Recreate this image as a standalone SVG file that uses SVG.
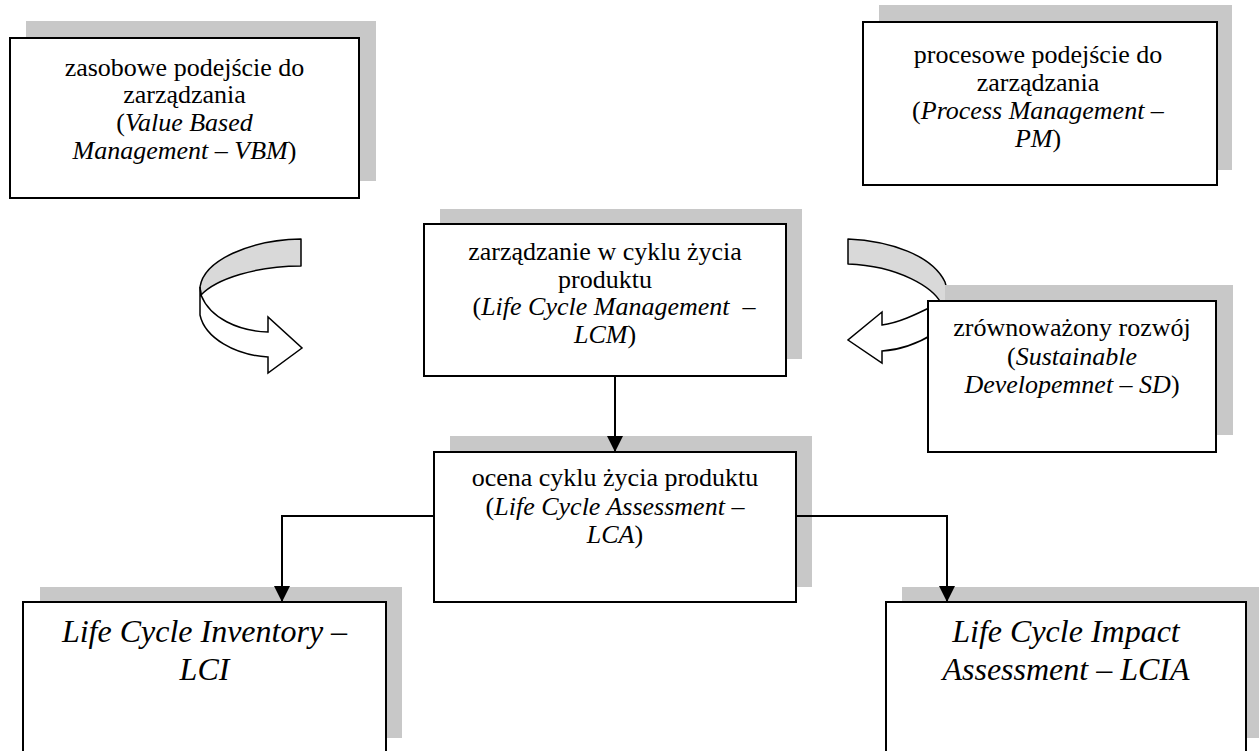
<svg xmlns="http://www.w3.org/2000/svg" width="1259" height="751" viewBox="0 0 1259 751">
<style>
.shadow{fill:#c8c8c8;stroke:none}
.box{fill:#fff;stroke:#000;stroke-width:2}
.t{font-family:'Liberation Serif','Times New Roman',Times,serif;font-size:26px;fill:#000;text-anchor:middle}
.big{font-size:32px;font-style:italic}
.i{font-style:italic}
.conn{fill:none;stroke:#000;stroke-width:2}
.band{fill:#d9d9d9;stroke:#000;stroke-width:1.5;stroke-linejoin:round}
.twist{fill:#fff;stroke:#000;stroke-width:1.5;stroke-linejoin:miter}
</style>
<defs>
<marker id="ah" markerUnits="userSpaceOnUse" markerWidth="16" markerHeight="16" refX="15" refY="7.5" orient="auto" viewBox="0 0 15 15">
<path d="M0,0 L15,7.5 L0,15 Z" fill="#000"/>
</marker>
</defs>
<rect width="1259" height="751" fill="#fff"/>

<g id="arrow-left">
<path class="band" d="M301,239 C250,240 204,260 200,287 L201,295 C216,279 256,266 301,266 Z"/>
<path class="twist" d="M200,287 L200,315 C205,338 235,355 268,357 L268,373 L302,348 L268,317 L268,332 C238,331 210,318 201,295 Z"/>
</g>

<g id="arrow-right">
<path class="band" d="M848,239 C890,241 932,255 945,282 C948,290 948,296 947,303 L941,303 C933,288 900,266 848,264 Z"/>
<path class="twist" d="M935,305 C915,315 898,323 882,325 L882,312 L848,340 L882,363 L882,351 C900,350 917,344 935,333 Z"/>
</g>

<g font-family="Liberation Serif, Times New Roman, serif">
<g id="vbm">
<rect class="shadow" x="26" y="21" width="350" height="160"/>
<rect class="box" x="10" y="38" width="349" height="160"/>
<text class="t" x="184.5" y="76">zasobowe podejście do</text>
<text class="t" x="184.5" y="103">zarządzania</text>
<text class="t" x="184.5" y="131">(<tspan class="i">Value Based</tspan></text>
<text class="t" x="184.5" y="159"><tspan class="i">Management – VBM</tspan>)</text>
</g>

<g id="pm">
<rect class="shadow" x="879" y="5" width="353" height="165"/>
<rect class="box" x="863" y="22" width="354" height="163"/>
<text class="t" x="1038" y="63">procesowe podejście do</text>
<text class="t" x="1038" y="91">zarządzania</text>
<text class="t" x="1038" y="119">(<tspan class="i">Process Management –</tspan></text>
<text class="t" x="1038" y="147"><tspan class="i">PM</tspan>)</text>
</g>

<g id="lcm">
<rect class="shadow" x="440" y="209" width="362" height="150"/>
<rect class="box" x="424" y="224" width="362" height="152"/>
<text class="t" x="605" y="260">zarządzanie w cyklu życia</text>
<text class="t" x="605" y="288">produktu</text>
<text class="t" x="614" y="315">(<tspan class="i">Life Cycle Management&#160; –</tspan></text>
<text class="t" x="605" y="343"><tspan class="i">LCM</tspan>)</text>
</g>

<g id="sd">
<rect class="shadow" x="945" y="285" width="288" height="150"/>
<rect class="box" x="928" y="301" width="288" height="151"/>
<text class="t" x="1072" y="336">zrównoważony rozwój</text>
<text class="t" x="1072" y="365">(<tspan class="i">Sustainable</tspan></text>
<text class="t" x="1072" y="393"><tspan class="i">Developemnet – SD</tspan>)</text>
</g>

<g id="lca">
<rect class="shadow" x="450" y="436" width="362" height="151"/>
<rect class="box" x="434" y="452" width="362" height="150"/>
<text class="t" x="615" y="486">ocena cyklu życia produktu</text>
<text class="t" x="615" y="515">(<tspan class="i">Life Cycle Assessment –</tspan></text>
<text class="t" x="615" y="543"><tspan class="i">LCA</tspan>)</text>
</g>

<g id="lci">
<rect class="shadow" x="40" y="587" width="362" height="151"/>
<rect class="box" x="23" y="602" width="363" height="152"/>
<text class="t big" x="204.5" y="642">Life Cycle Inventory –</text>
<text class="t big" x="204.5" y="680">LCI</text>
</g>

<g id="lcia">
<rect class="shadow" x="902" y="587" width="360" height="151"/>
<rect class="box" x="886" y="602" width="360" height="152"/>
<text class="t big" x="1066" y="642">Life Cycle Impact</text>
<text class="t big" x="1066" y="680">Assessment – LCIA</text>
</g>
</g>

<g id="connectors">
<path class="conn" d="M615,376 L615,452" marker-end="url(#ah)"/>
<path class="conn" d="M434,516 L282,516 L282,602" marker-end="url(#ah)"/>
<path class="conn" d="M796,516 L947,516 L947,602" marker-end="url(#ah)"/>
</g>
</svg>
